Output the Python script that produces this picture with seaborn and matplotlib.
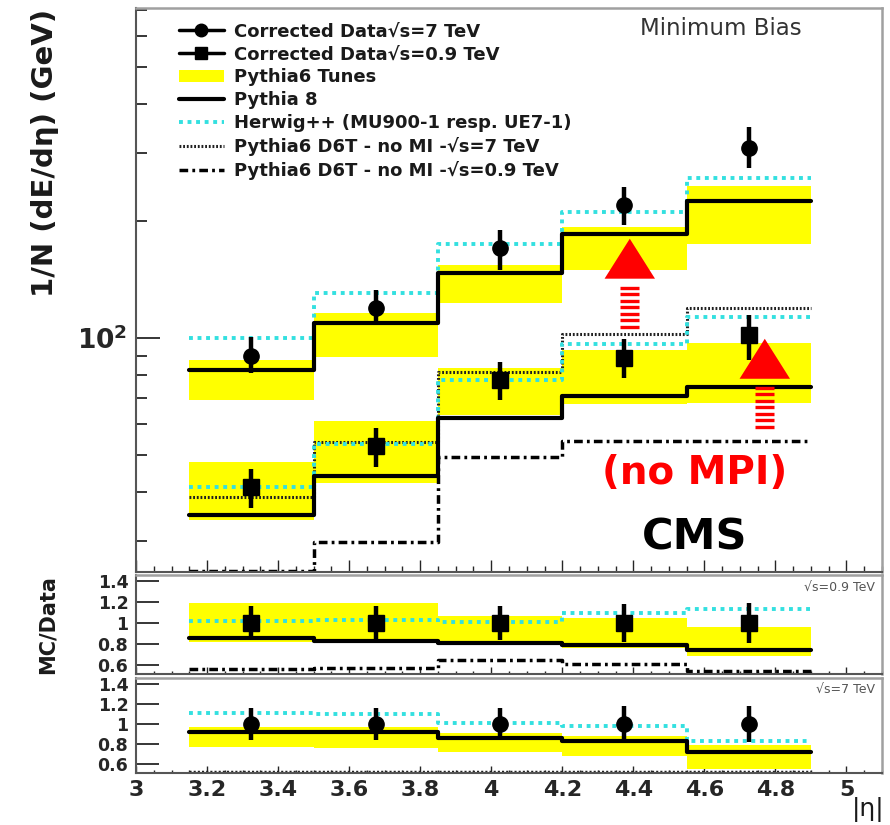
import numpy as np
import matplotlib
matplotlib.use('Agg')
import matplotlib.pyplot as plt
import seaborn as sns
from matplotlib.lines import Line2D
from matplotlib.patches import Patch, Polygon
from matplotlib.ticker import MultipleLocator, LogLocator, NullFormatter

# ---------------- data ----------------
eta_edges = [3.15, 3.5, 3.85, 4.2, 4.55, 4.9]
eta_centers = [3.325, 3.675, 4.025, 4.375, 4.725]

# main panel, sqrt(s)=7 TeV
data7 = [89.9, 119.5, 170.6, 220.2, 308.9]
data7_lo = [81.2, 108.0, 149.7, 195.6, 274.3]
data7_hi = [100.6, 132.9, 189.7, 244.9, 349.9]
tunes7_lo = [69.2, 89.3, 123.1, 149.7, 174.7]
tunes7_hi = [87.8, 116.0, 154.2, 193.2, 246.5]
pythia8_7 = [82.7, 109.3, 147.1, 185.4, 225.5]
herwig_7 = [100.0, 130.6, 174.7, 211.2, 258.5]
d6t_nomi_7 = [38.9, 53.8, 81.8, 102.4, 119.5]

# main panel, sqrt(s)=0.9 TeV
data09 = [41.3, 52.7, 77.9, 88.8, 101.8]
data09_lo = [36.3, 46.5, 69.2, 78.9, 87.8]
data09_hi = [46.0, 58.6, 86.7, 99.4, 114.6]
tunes09_lo = [34.0, 42.3, 63.3, 67.6, 68.0]
tunes09_hi = [47.9, 61.1, 83.7, 93.1, 97.1]
pythia8_09 = [35.0, 44.1, 62.2, 70.9, 74.7]
herwig_09 = [41.3, 53.3, 77.9, 96.5, 113.3]
d6t_nomi_09 = [25.0, 29.8, 49.3, 54.3, 54.3]

# ratio panel sqrt(s)=0.9 TeV
r09_err = [0.16, 0.16, 0.16, 0.18, 0.19]
r09_tunes_lo = [0.82, 0.82, 0.79, 0.76, 0.68]
r09_tunes_hi = [1.19, 1.19, 1.07, 1.05, 0.96]
r09_pythia8 = [0.86, 0.83, 0.81, 0.79, 0.74]
r09_herwig = [1.02, 1.03, 1.01, 1.10, 1.13]
r09_d6t = [0.56, 0.57, 0.64, 0.61, 0.54]

# ratio panel sqrt(s)=7 TeV
r7_err = [0.16, 0.16, 0.16, 0.18, 0.18]
r7_tunes_lo = [0.77, 0.76, 0.72, 0.68, 0.55]
r7_tunes_hi = [0.97, 0.97, 0.91, 0.88, 0.79]
r7_pythia8 = [0.92, 0.92, 0.86, 0.83, 0.72]
r7_herwig = [1.11, 1.10, 1.01, 0.98, 0.83]
r7_d6t = [0.52, 0.52, 0.52, 0.52, 0.52]

x_ticks = [3.0, 3.2, 3.4, 3.6, 3.8, 4.0, 4.2, 4.4, 4.6, 4.8, 5.0]
x_ticklabels = ['3', '3.2', '3.4', '3.6', '3.8', '4', '4.2', '4.4', '4.6', '4.8', '5']
r_ticks = [0.6, 0.8, 1.0, 1.2, 1.4]
r_ticklabels = ['0.6', '0.8', '1', '1.2', '1.4']

# annotation arrows ("no MPI")
arrow_x = [4.39, 4.77]
arrow_tip = [180.0, 99.4]
arrow_base = [142.0, 78.4]
arrow_stripe_top = [134.5, 74.3]
arrow_stripe_bot = [106.7, 59.0]

# ---------------- style ----------------
sns.set_theme(style='white')
plt.rcParams['font.family'] = ['DejaVu Sans']
plt.rcParams['font.weight'] = 'bold'
plt.rcParams['mathtext.default'] = 'bf'

YELLOW = '#ffff00'
CYAN = '#33e0e0'
HERWIG_LS = (0, (1.0, 1.2))
D6T7_LS = (0, (0.6, 0.6))
D6T09_LS = (0, (2.5, 1.2, 0.8, 1.2))

fig = plt.figure(figsize=(8.9, 8.25), dpi=100)
ax = fig.add_axes([136/890, 1-572/825, 746/890, 564/825])
ax1 = fig.add_axes([136/890, 1-674/825, 746/890, 99/825], sharex=ax)
ax2 = fig.add_axes([136/890, 1-773/825, 746/890, 95/825], sharex=ax)


def step(a, values, **kw):
    y = list(values) + [values[-1]]
    sns.lineplot(x=eta_edges, y=y, drawstyle='steps-post', estimator=None,
                 sort=False, ax=a, legend=False, **kw)


def band(a, lo, hi):
    a.bar(eta_centers, np.array(hi) - np.array(lo), bottom=lo, width=0.35,
          color=YELLOW, linewidth=0, zorder=1)


# ---------------- main panel ----------------
ax.set_yscale('log')
band(ax, tunes7_lo, tunes7_hi)
band(ax, tunes09_lo, tunes09_hi)
step(ax, d6t_nomi_7, color='#202020', lw=2.2, linestyle=D6T7_LS, zorder=2)
step(ax, d6t_nomi_09, color='black', lw=2.5, linestyle=D6T09_LS, zorder=2)
step(ax, herwig_7, color=CYAN, lw=2.8, linestyle=HERWIG_LS, zorder=3)
step(ax, herwig_09, color=CYAN, lw=2.8, linestyle=HERWIG_LS, zorder=3)
step(ax, pythia8_7, color='black', lw=3, zorder=4)
step(ax, pythia8_09, color='black', lw=3, zorder=4)

ax.errorbar(eta_centers, data7,
            yerr=[np.array(data7) - np.array(data7_lo), np.array(data7_hi) - np.array(data7)],
            fmt='o', color='black', ms=11, elinewidth=3.2, capsize=0, zorder=6)
ax.errorbar(eta_centers, data09,
            yerr=[np.array(data09) - np.array(data09_lo), np.array(data09_hi) - np.array(data09)],
            fmt='s', color='black', ms=11, elinewidth=3.2, capsize=0, zorder=6)

ax.set_xlim(3.0, 5.1)
ax.set_ylim(24.9, 708)

# arrows
hw, sw = 0.071, 0.027
for x, tip, base, st, sb in zip(arrow_x, arrow_tip, arrow_base, arrow_stripe_top, arrow_stripe_bot):
    ax.add_patch(Polygon([(x - hw, base), (x + hw, base), (x, tip)], closed=True,
                         facecolor='#ff0000', edgecolor='none', zorder=8))
    ys = np.geomspace(st, sb, 7)
    ax.hlines(ys, x - sw, x + sw, color='#ff0000', lw=2.4, zorder=8)

ax.text(0.749, 0.176, '(no MPI)', transform=ax.transAxes, ha='center', va='center',
        fontsize=28, color='#ff0000', fontweight='bold')
ax.text(0.749, 0.062, 'CMS', transform=ax.transAxes, ha='center', va='center',
        fontsize=31, color='black', fontweight='bold')
ax.text(0.7845, 0.963, 'Minimum Bias', transform=ax.transAxes, ha='center', va='center',
        fontsize=16.5, color='#333333', fontweight='normal')

handles = [
    Line2D([], [], color='black', marker='o', ms=9, lw=2.5),
    Line2D([], [], color='black', marker='s', ms=9, lw=2.5),
    Patch(facecolor=YELLOW, edgecolor='none'),
    Line2D([], [], color='black', lw=3),
    Line2D([], [], color=CYAN, lw=2.8, linestyle=HERWIG_LS),
    Line2D([], [], color='#202020', lw=2.2, linestyle=D6T7_LS),
    Line2D([], [], color='black', lw=2.5, linestyle=D6T09_LS),
]
labels = [
    'Corrected Data\u221as=7 TeV',
    'Corrected Data\u221as=0.9 TeV',
    'Pythia6 Tunes',
    'Pythia 8',
    'Herwig++ (MU900-1 resp. UE7-1)',
    'Pythia6 D6T - no MI -\u221as=7 TeV',
    'Pythia6 D6T - no MI -\u221as=0.9 TeV',
]
leg = ax.legend(handles, labels, loc='upper left', bbox_to_anchor=(0.057, 0.974),
                frameon=False, fontsize=13, handlelength=2.5, handletextpad=0.55,
                labelspacing=0.27, borderpad=0, borderaxespad=0)
for t in leg.get_texts():
    t.set_fontweight('bold')
    t.set_color('#1a1a1a')

ax.set_yticks([100])
ax.set_yticklabels([r'$\mathbf{10^{2}}$'])
ax.yaxis.set_minor_locator(LogLocator(base=10, subs=[2, 3, 4, 5, 6, 7, 8, 9]))
ax.yaxis.set_minor_formatter(NullFormatter())
ax.tick_params(axis='y', which='major', direction='in', length=17, width=1.3,
               labelsize=19, pad=6, left=True, right=False)
ax.tick_params(axis='y', which='minor', direction='in', length=8, width=1.3,
               left=True, right=False)
ax.xaxis.set_major_locator(MultipleLocator(0.2))
ax.xaxis.set_minor_locator(MultipleLocator(0.05))
ax.tick_params(axis='x', which='major', direction='in', length=8.5, width=1.0,
               labelbottom=False, bottom=True, top=False)
ax.tick_params(axis='x', which='minor', direction='in', length=4.3, width=1.0,
               bottom=True, top=False)

# ---------------- ratio panels ----------------
def ratio_panel(a, lo, hi, p8, hw_, d6t, d6t_ls, d6t_color, err, marker, label):
    band(a, lo, hi)
    step(a, d6t, color=d6t_color, lw=2.5, linestyle=d6t_ls, zorder=2)
    step(a, hw_, color=CYAN, lw=2.8, linestyle=HERWIG_LS, zorder=3)
    step(a, p8, color='black', lw=3, zorder=4)
    a.errorbar(eta_centers, np.ones(len(eta_centers)), yerr=err, fmt=marker, color='black',
               ms=11, elinewidth=3.2, capsize=0, zorder=6)
    a.set_ylim(0.51, 1.46)
    a.set_yticks(r_ticks)
    a.set_yticklabels(r_ticklabels)
    a.tick_params(axis='y', which='major', direction='in', length=16.5, width=1.3,
                  labelsize=12.5, pad=5.5, left=True, right=False)
    a.tick_params(axis='x', which='major', direction='in', length=5, width=1.0,
                  bottom=True, top=False)
    a.tick_params(axis='x', which='minor', direction='in', length=2.5, width=1.0,
                  bottom=True, top=False)
    a.text(0.99, 0.88, label, transform=a.transAxes, ha='right', va='center',
           fontsize=9, color='#555555', fontweight='normal')


ratio_panel(ax1, r09_tunes_lo, r09_tunes_hi, r09_pythia8, r09_herwig, r09_d6t,
            D6T09_LS, 'black', r09_err, 's', '\u221as=0.9 TeV')
ratio_panel(ax2, r7_tunes_lo, r7_tunes_hi, r7_pythia8, r7_herwig, r7_d6t,
            D6T7_LS, '#202020', r7_err, 'o', '\u221as=7 TeV')

ax1.tick_params(axis='x', labelbottom=False)
ax2.set_xticks(x_ticks)
ax2.set_xticklabels(x_ticklabels)
ax2.tick_params(axis='x', which='major', labelsize=16, pad=5)
ax2.set_xlim(3.0, 5.1)

for a in (ax, ax1, ax2):
    a.set_xlabel('')
    a.set_ylabel('')
    for s in ('left', 'bottom'):
        a.spines[s].set_color('#555555')
        a.spines[s].set_linewidth(1.5)
    for s in ('top', 'right'):
        a.spines[s].set_color('#a0a0a0')
        a.spines[s].set_linewidth(1.8)
    for t in a.get_yticklabels() + a.get_xticklabels():
        t.set_fontweight('bold')

# axis titles
fig.text(45/890, 1-153/825, '1/N (dE/d\u03b7) (GeV)', rotation=90, ha='center', va='center',
         fontsize=21, fontweight='bold', color='#1a1a1a')
fig.text(48/890, 1-625/825, 'MC/Data', rotation=90, ha='center', va='center',
         fontsize=15, fontweight='bold', color='#1a1a1a')
fig.text(868/890, 1-810/825, '|\u03b7|', ha='center', va='center',
         fontsize=18, fontweight='normal', color='#1a1a1a')

fig.savefig('out.png', dpi=100)
